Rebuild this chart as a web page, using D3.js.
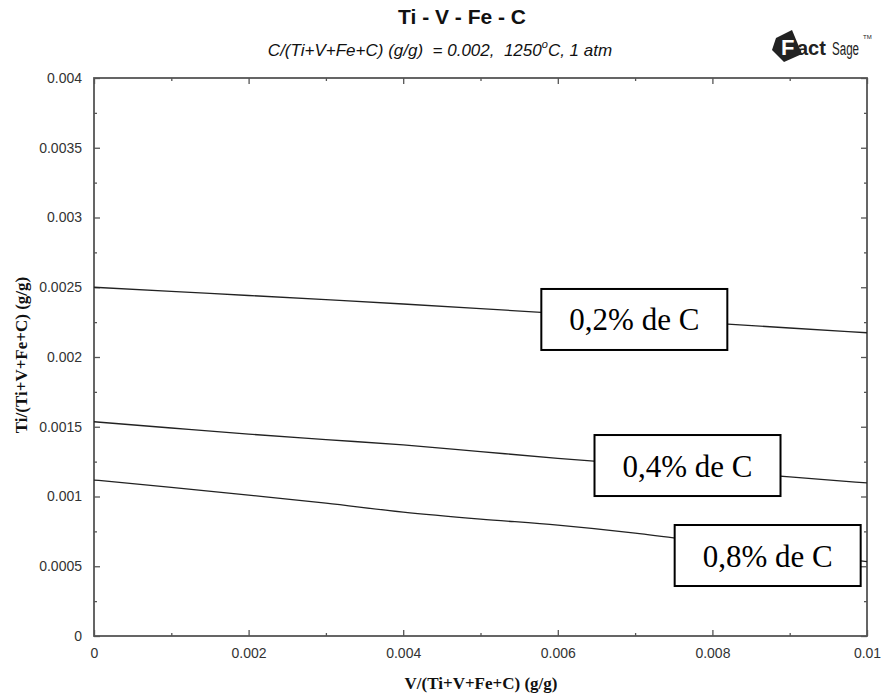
<!DOCTYPE html>
<html><head><meta charset="utf-8">
<script src="https://cdn.jsdelivr.net/npm/d3@7/dist/d3.min.js"></script>
<style>body{margin:0;background:#fff}svg{display:block}</style>
</head><body>
<svg id="chart" width="881" height="694"></svg>
<script>
// ---- data ----
const xValues  = [0, 0.001, 0.002, 0.003, 0.004, 0.005, 0.006, 0.007, 0.008, 0.009, 0.010];
const series02 = [0.00250, 0.00247, 0.002441, 0.002411, 0.00238, 0.002347, 0.002313, 0.002278, 0.002243, 0.002208, 0.002174];
const series04 = [0.001536, 0.001491, 0.001447, 0.001408, 0.00137, 0.001322, 0.001274, 0.00123, 0.001185, 0.00114, 0.001097];
const series08 = [0.001118, 0.001066, 0.00101, 0.000952, 0.000888, 0.000838, 0.000795, 0.000738, 0.000668, 0.0006, 0.000533];
const seriesNames = ["0,2% de C", "0,4% de C", "0,8% de C"];
const labelX = [0.00699, 0.007678, 0.008715];
const labelY = [0.002269, 0.001222, 0.000577];
const xTicks = [0, 0.002, 0.004, 0.006, 0.008, 0.010];
const xTickLabels = ["0", "0.002", "0.004", "0.006", "0.008", "0.01"];
const xMinor = [0.001, 0.003, 0.005, 0.007, 0.009];
const yTicks = [0, 0.0005, 0.001, 0.0015, 0.002, 0.0025, 0.003, 0.0035, 0.004];
const yTickLabels = ["0", "0.0005", "0.001", "0.0015", "0.002", "0.0025", "0.003", "0.0035", "0.004"];
const yMinor = [0.00025, 0.00075, 0.00125, 0.00175, 0.00225, 0.00275, 0.00325, 0.00375];
const title = "Ti - V - Fe - C";
const xLabel = "V/(Ti+V+Fe+C) (g/g)";
const yLabel = "Ti/(Ti+V+Fe+C) (g/g)";

// ---- layout ----
const W = 881, H = 694;
const m = {left: 94, top: 78, right: 14, bottom: 58};
const svg = d3.select("#chart");
const x = d3.scaleLinear().domain([0, 0.01]).range([m.left, W - m.right]);
const y = d3.scaleLinear().domain([0, 0.004]).range([H - m.bottom, m.top]);
const axisCol = "#555";

function styleAxis(g) {
  g.select(".domain").remove();
  g.selectAll(".tick line").attr("stroke", axisCol).attr("stroke-width", 1.3);
  g.selectAll(".tick text").attr("fill", "#333").attr("font-family", "Liberation Sans, Arial, sans-serif").attr("font-size", 14);
}

// bottom
svg.append("g").attr("transform", `translate(0,${y(0)})`)
  .call(d3.axisBottom(x).tickValues(xTicks).tickSizeInner(-6).tickSizeOuter(0).tickPadding(12)
    .tickFormat((d, i) => xTickLabels[i]))
  .call(styleAxis);
svg.append("g").attr("transform", `translate(0,${y(0)})`)
  .call(d3.axisBottom(x).tickValues(xMinor).tickSizeInner(-3).tickSizeOuter(0).tickFormat(""))
  .call(styleAxis);
// top
svg.append("g").attr("transform", `translate(0,${y(0.004)})`)
  .call(d3.axisTop(x).tickValues(xTicks).tickSizeInner(-6).tickSizeOuter(0).tickFormat(""))
  .call(styleAxis);
svg.append("g").attr("transform", `translate(0,${y(0.004)})`)
  .call(d3.axisTop(x).tickValues(xMinor).tickSizeInner(-3).tickSizeOuter(0).tickFormat(""))
  .call(styleAxis);
// left
svg.append("g").attr("transform", `translate(${x(0)},0)`)
  .call(d3.axisLeft(y).tickValues(yTicks).tickSizeInner(-6).tickSizeOuter(0).tickPadding(12)
    .tickFormat((d, i) => yTickLabels[i]))
  .call(styleAxis);
svg.append("g").attr("transform", `translate(${x(0)},0)`)
  .call(d3.axisLeft(y).tickValues(yMinor).tickSizeInner(-3).tickSizeOuter(0).tickFormat(""))
  .call(styleAxis);
// right
svg.append("g").attr("transform", `translate(${x(0.01)},0)`)
  .call(d3.axisRight(y).tickValues(yTicks).tickSizeInner(-6).tickSizeOuter(0).tickFormat(""))
  .call(styleAxis);
svg.append("g").attr("transform", `translate(${x(0.01)},0)`)
  .call(d3.axisRight(y).tickValues(yMinor).tickSizeInner(-3).tickSizeOuter(0).tickFormat(""))
  .call(styleAxis);

// frame
svg.append("rect").attr("x", x(0)).attr("y", y(0.004))
  .attr("width", x(0.01) - x(0)).attr("height", y(0) - y(0.004))
  .attr("fill", "none").attr("stroke", axisCol).attr("stroke-width", 1.8);

// lines
const allSeries = [series02, series04, series08];
const line = d3.line().x((d, i) => x(xValues[i])).y(d => y(d)).curve(d3.curveMonotoneX);
svg.append("g").selectAll("path").data(allSeries).join("path")
  .attr("d", line).attr("fill", "none").attr("stroke", "#222").attr("stroke-width", 1.3);

// label boxes
const boxW = 186, boxH = 61;
const lg = svg.append("g").selectAll("g").data(seriesNames).join("g")
  .attr("transform", (d, i) => `translate(${x(labelX[i])},${y(labelY[i])})`);
lg.append("rect").attr("x", -boxW / 2).attr("y", -boxH / 2).attr("width", boxW).attr("height", boxH)
  .attr("fill", "#fff").attr("stroke", "#000").attr("stroke-width", 2);
lg.append("text").attr("text-anchor", "middle").attr("y", 11)
  .attr("font-family", "Liberation Serif, Times New Roman, serif").attr("font-size", 31).attr("fill", "#000")
  .attr("xml:space", "preserve")
  .text(d => d);

// title
svg.append("text").attr("x", 462).attr("y", 24).attr("text-anchor", "middle")
  .attr("font-family", "Liberation Sans, Arial, sans-serif").attr("font-weight", "bold").attr("font-size", 21)
  .attr("fill", "#111").text(title);
const sub = svg.append("text").attr("x", 440).attr("y", 56).attr("text-anchor", "middle")
  .attr("font-family", "Liberation Sans, Arial, sans-serif").attr("font-style", "italic").attr("font-size", 17)
  .attr("fill", "#111").attr("xml:space", "preserve");
sub.append("tspan").text("C/(Ti+V+Fe+C) (g/g)  = 0.002,  1250");
sub.append("tspan").text("o").attr("font-size", 11).attr("dy", -8);
sub.append("tspan").text("C, 1 atm").attr("dy", 8);

// axis labels
svg.append("text").attr("x", 481).attr("y", 689).attr("text-anchor", "middle")
  .attr("font-family", "Liberation Serif, Times New Roman, serif").attr("font-weight", "bold").attr("font-size", 17)
  .attr("fill", "#111").text(xLabel);
svg.append("text").attr("transform", "translate(27,355) rotate(-90)").attr("text-anchor", "middle")
  .attr("font-family", "Liberation Serif, Times New Roman, serif").attr("font-weight", "bold").attr("font-size", 17)
  .attr("fill", "#111").text(yLabel);

// FactSage logo
const logo = svg.append("g").attr("transform", "translate(772,30)");
logo.append("path").attr("d", "M4,8 L20,0 L30,24 L12,32 L0,20 Z").attr("fill", "#222");
logo.append("text").attr("x", 9).attr("y", 25).attr("font-family", "Liberation Sans, Arial, sans-serif")
  .attr("font-weight", "bold").attr("font-size", 22).attr("fill", "#fff").text("F");
logo.append("text").attr("x", 25).attr("y", 25).attr("font-family", "Liberation Sans, Arial, sans-serif")
  .attr("font-weight", "bold").attr("font-size", 20).attr("fill", "#222").text("act");
logo.append("text").attr("x", 60).attr("y", 25).attr("font-family", "Liberation Sans Narrow, Liberation Sans, Arial, sans-serif")
  .attr("font-size", 18).attr("fill", "#222").attr("textLength", 27).attr("lengthAdjust", "spacingAndGlyphs").text("Sage");
logo.append("text").attr("x", 91).attr("y", 9).attr("font-family", "Liberation Sans, Arial, sans-serif")
  .attr("font-size", 6).attr("fill", "#222").text("TM");
</script>
</body></html>
